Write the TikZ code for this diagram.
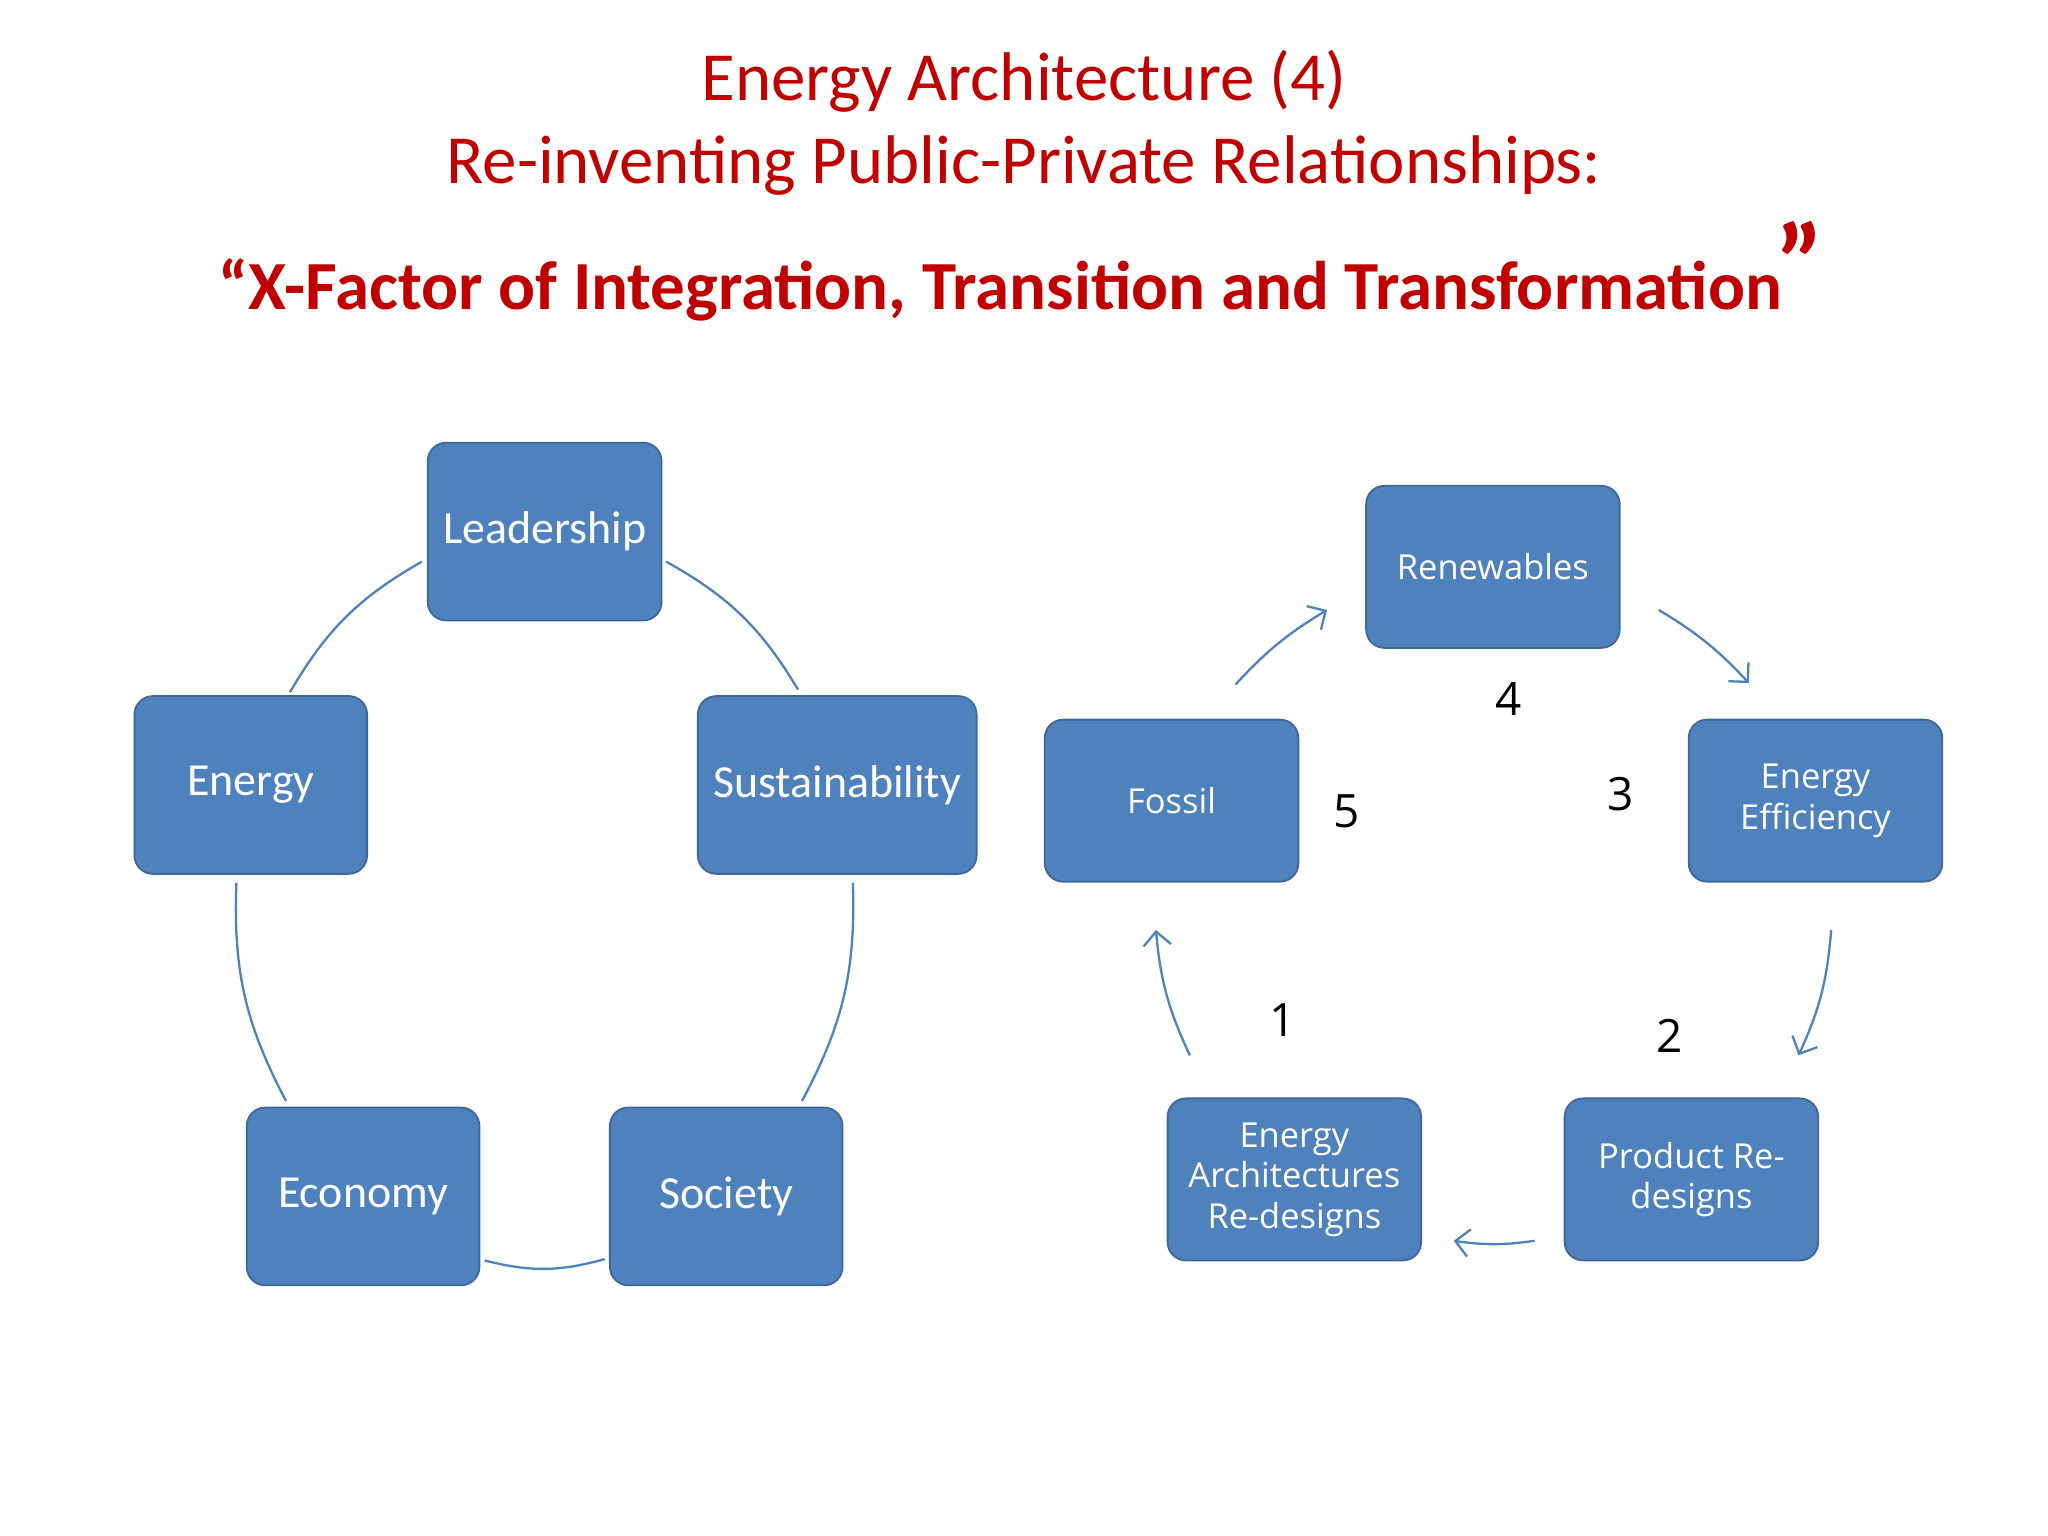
\documentclass[tikz,border=0pt]{standalone}
\usepackage{fontspec}
\setmainfont{Carlito}
\newfontfamily\osans{Open Sans}
\usetikzlibrary{arrows.meta}
\definecolor{boxblue}{HTML}{4F81BD}
\definecolor{titlered}{HTML}{C00000}
\begin{document}
\begin{tikzpicture}[x=0.01cm,y=-0.01cm,
 lbox/.style={draw=boxblue!80!black,line width=0.4pt,fill=boxblue,rounded corners=4pt,text=white,minimum width=1.78cm,minimum height=1.36cm,font=\fontsize{10}{12}\selectfont},
 rbox/.style={draw=boxblue!80!black,line width=0.4pt,fill=boxblue,rounded corners=4pt,text=white,minimum width=1.94cm,minimum height=1.24cm,align=center,font=\osans\fontsize{7.5}{8.8}\selectfont},
 link/.style={draw=boxblue,line width=0.5pt},
 arr/.style={link,-{Straight Barb[length=3pt,width=6pt]}},
 num/.style={font=\osans\fontsize{10}{12}\selectfont}]
\useasboundingbox (0,0) rectangle (1568,1176);
\fill[white] (0,0) rectangle (1568,1176);
\node[text=titlered,font=\fontsize{15}{18}\selectfont] (t1) at (784,62) {Energy Architecture (4)};
\node[text=titlered,font=\fontsize{15}{18}\selectfont] (t2) at (784,127) {Re-inventing Public-Private Relationships:};
\node[text=titlered,font=\bfseries\fontsize{15}{18}\selectfont] (t3) at (766,222) {“X-Factor of Integration, Transition and Transformation};
\node[text=titlered,font=\bfseries\fontsize{24}{28}\selectfont] (q) at (1378,200) {”};
% left
\node[lbox] (lead) at (417,407) {Leadership};
\node[lbox] (ener) at (192,601) {Energy};
\node[lbox] (sust) at (641,601) {Sustainability};
\node[lbox] (econ) at (278,916) {Economy};
\node[lbox] (soc) at (556,916) {Society};
\coordinate (a1) at (323,430); \coordinate (a2) at (222,530);
\coordinate (b1) at (510,430); \coordinate (b2) at (611,528);
\coordinate (c1) at (653,676); \coordinate (c2) at (614,843);
\coordinate (d1) at (181,676); \coordinate (d2) at (219,843);
\coordinate (e1) at (371,965); \coordinate (e2) at (463,964);
\draw[link] (a1) to[bend right=15] (a2);
\draw[link] (b1) to[bend left=15] (b2);
\draw[link] (c1) to[bend left=15] (c2);
\draw[link] (d1) to[bend right=15] (d2);
\draw[link] (e1) to[bend right=15] (e2);
% right
\node[rbox] (ren) at (1143,434) {Renewables};
\node[rbox] (fos) at (897,613) {Fossil};
\node[rbox] (ee) at (1390,613) {Energy\\Efficiency};
\node[rbox] (prd) at (1295,903) {Product Re-\\designs};
\node[rbox] (ea) at (991,903) {Energy\\Architectures\\Re-designs};
\coordinate (f1) at (946,524); \coordinate (f2) at (1016,467);
\coordinate (g1) at (1270,467); \coordinate (g2) at (1339,523);
\coordinate (h1) at (1402,712); \coordinate (h2) at (1377,808);
\coordinate (i1) at (1175,950); \coordinate (i2) at (1113,950);
\coordinate (j1) at (911,808); \coordinate (j2) at (885,712);
\draw[arr] (f1) to[bend left=8] (f2);
\draw[arr] (g1) to[bend left=8] (g2);
\draw[arr] (h1) to[bend left=10] (h2);
\draw[arr] (i1) to[bend left=8] (i2);
\draw[arr] (j1) to[bend left=10] (j2);
\node[num] (n4) at (1155,535) {4};
\node[num] (n5) at (1031,621) {5};
\node[num] (n3) at (1241,608) {3};
\node[num] (n1) at (982,781) {1};
\node[num] (n2) at (1278,793) {2};
\end{tikzpicture}
\end{document}
